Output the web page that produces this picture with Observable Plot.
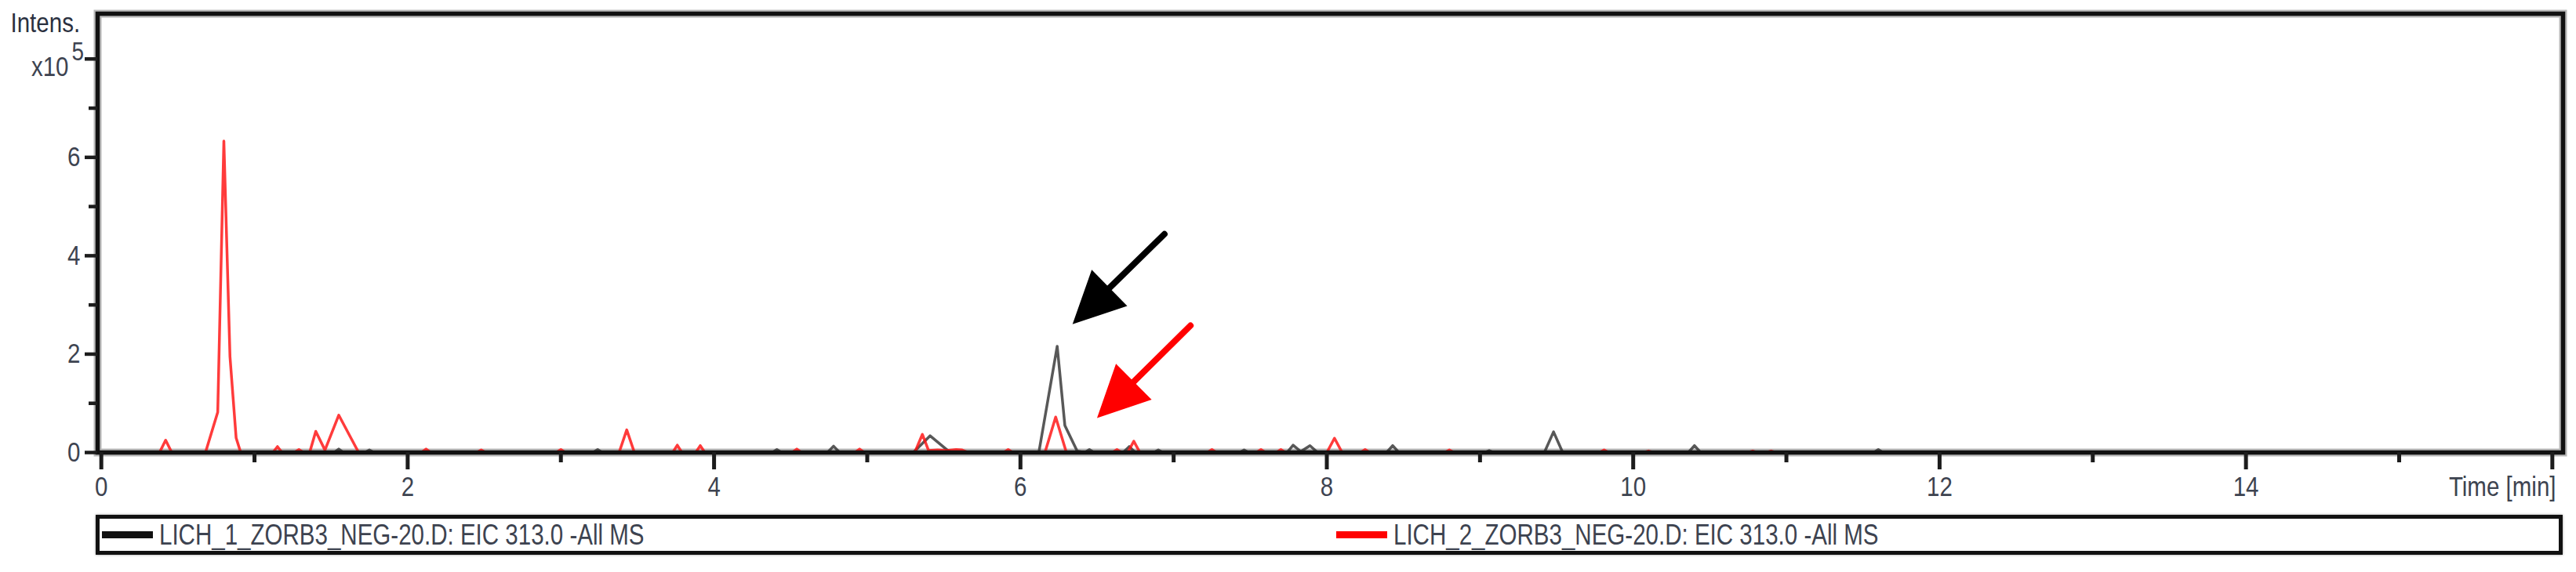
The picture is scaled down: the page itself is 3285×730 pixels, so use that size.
<!DOCTYPE html>
<html>
<head>
<meta charset="utf-8">
<script src="https://cdn.jsdelivr.net/npm/d3@7"></script>
<script src="https://cdn.jsdelivr.net/npm/@observablehq/plot@0.6"></script>
<style>
  html, body { margin: 0; padding: 0; background: #fff; }
  #wrap { position: relative; width: 3285px; height: 730px; overflow: hidden; background: #fff; }
  #legend { position: absolute; left: 122px; top: 657px; width: 3146px; height: 51px; box-sizing: border-box;
            border: 5px solid #111; box-shadow: 0 0 3px #999; background: #fff; }
  .swatch { position: absolute; top: 16px; height: 9px; }
  .ltext { position: absolute; top: 0; line-height: 41px; font-size: 36px; color: #3d4350; white-space: nowrap;
           transform-origin: left center; }
</style>
</head>
<body>
<div id="wrap"><div id="legend"></div></div>
<script>
// ---------- data (time in min, intensity in x10^5) ----------
const blackTime = [0, 1.52, 1.55, 1.58, 1.72, 1.75, 1.78, 3.21, 3.24, 3.27, 4.38, 4.41, 4.44, 4.74, 4.78, 4.82,
  5.30, 5.41, 5.53, 5.56, 6.12, 6.24, 6.29, 6.37, 6.42, 6.45, 6.48, 6.67, 6.71, 6.75, 6.87, 6.90, 6.93,
  7.43, 7.46, 7.49, 7.74, 7.78, 7.83, 7.89, 7.94, 8.39, 8.43, 8.47, 9.03, 9.06, 9.09, 9.42, 9.48, 9.54,
  10.36, 10.40, 10.44, 11.57, 11.60, 11.63, 16.06];
const blackIntens = [0, 0, 0.07, 0, 0, 0.05, 0, 0, 0.06, 0, 0, 0.06, 0, 0, 0.13, 0,
  0, 0.34, 0.03, 0, 0, 2.16, 0.55, 0.03, 0, 0.06, 0, 0, 0.12, 0, 0, 0.05, 0,
  0, 0.05, 0, 0, 0.15, 0.02, 0.14, 0, 0, 0.14, 0, 0, 0.04, 0, 0, 0.42, 0,
  0, 0.14, 0, 0, 0.06, 0, 0];

const redTime = [0, 0.38, 0.42, 0.46, 0.68, 0.76, 0.80, 0.84, 0.88, 0.91, 1.12, 1.15, 1.18, 1.26, 1.29, 1.32,
  1.36, 1.40, 1.46, 1.55, 1.68, 2.09, 2.12, 2.15, 2.45, 2.48, 2.51, 2.97, 3.00, 3.03, 3.38, 3.43, 3.48,
  3.73, 3.76, 3.79, 3.88, 3.91, 3.94, 4.51, 4.54, 4.57, 4.92, 4.95, 4.98,
  5.31, 5.36, 5.40, 5.46, 5.52, 5.58, 5.62, 5.66, 5.89, 5.92, 5.95, 6.16, 6.23, 6.30,
  6.60, 6.63, 6.66, 6.70, 6.74, 6.78, 7.22, 7.25, 7.28, 7.54, 7.57, 7.60, 7.67, 7.70, 7.73,
  8.00, 8.05, 8.10, 8.22, 8.25, 8.28, 8.77, 8.80, 8.83, 9.78, 9.81, 9.84, 10.07, 10.10, 10.13,
  10.75, 10.78, 10.81, 10.87, 10.90, 10.93, 16.06];
const redIntens = [0, 0, 0.25, 0, 0, 0.82, 6.33, 1.95, 0.3, 0, 0, 0.12, 0, 0, 0.06, 0,
  0, 0.43, 0.05, 0.76, 0, 0, 0.07, 0, 0, 0.05, 0, 0, 0.06, 0, 0, 0.46, 0,
  0, 0.15, 0, 0, 0.14, 0, 0, 0.07, 0, 0, 0.07, 0,
  0, 0.37, 0.04, 0.05, 0.04, 0.06, 0.05, 0, 0, 0.06, 0, 0, 0.72, 0,
  0, 0.06, 0, 0, 0.23, 0, 0, 0.06, 0, 0, 0.06, 0, 0, 0.06, 0,
  0, 0.29, 0, 0, 0.06, 0, 0, 0.05, 0, 0, 0.05, 0, 0, 0.03, 0,
  0, 0.03, 0, 0, 0.03, 0, 0];

const seriesLabels = ["LICH_1_ZORB3_NEG-20.D: EIC 313.0 -All MS", "LICH_2_ZORB3_NEG-20.D: EIC 313.0 -All MS"];
const seriesColors = ["#2e2e2e", "#ff1010"];

const xMajorTicks = [0, 2, 4, 6, 8, 10, 12, 14, 16];
const xTickLabels = ["0", "2", "4", "6", "8", "10", "12", "14", ""];
const xMinorTicks = [1, 3, 5, 7, 9, 11, 13, 15];
const yMajorTicks = [0, 2, 4, 6, 8];
const yTickLabels = ["0", "2", "4", "6", ""];
const yMinorTicks = [1, 3, 5, 7];
const xDomain = [-0.024, 16.07];
const yDomain = [0, 8.92];
const xTitle = "Time [min]";
const yTitle = "Intens.";
const yMultiplier = "x10";
const yMultiplierExp = "5";
const yMultiplierAt = [8];

// annotation arrows (data coordinates): tail -> tip
const arrowTailX = [6.94, 7.11];
const arrowTailY = [4.44, 2.58];
const arrowTipX = [6.34, 6.50];
const arrowTipY = [2.61, 0.70];
const arrowColors = ["#000000", "#ff0000"];

// ---------- fonts: prefer a real narrow face, else compress ----------
const ctx = document.createElement("canvas").getContext("2d");
ctx.font = "36px 'Liberation Sans Narrow'";
const wNarrow = ctx.measureText("Time [min] LICH_1_ZORB3").width;
ctx.font = "36px 'Liberation Sans'";
const wRegular = ctx.measureText("Time [min] LICH_1_ZORB3").width;
const hasNarrow = wNarrow / wRegular < 0.9;
const fontFamily = hasNarrow ? "'Liberation Sans Narrow', 'Arial Narrow', sans-serif" : "'Liberation Sans', Arial, Helvetica, sans-serif";
const squeeze = hasNarrow ? 1 : 0.82;

// ---------- build ----------
const blackRows = blackTime.map((t, i) => ({t, v: blackIntens[i]}));
const redRows = redTime.map((t, i) => ({t, v: redIntens[i]}));
const xLab = new Map(xMajorTicks.map((d, i) => [d, xTickLabels[i]]));
const yLab = new Map(yMajorTicks.map((d, i) => [d, yTickLabels[i]]));
const arrowRows = arrowTailX.map((x1, i) => ({x1, y1: arrowTailY[i], x2: arrowTipX[i], y2: arrowTipY[i], color: arrowColors[i]}));

// filled arrow head: tip at origin, pointing up
const headSymbol = {
  draw(context, size) {
    const s = Math.sqrt(size / Math.PI);
    context.moveTo(0, 0);
    context.lineTo(s * 0.98, s * 2);
    context.lineTo(-s * 0.98, s * 2);
    context.closePath();
  }
};

function makePlot(extra) {
  return Plot.plot({
    width: 3285, height: 650,
    marginLeft: 124, marginRight: 17, marginTop: 17, marginBottom: 73,
    x: {domain: xDomain},
    y: {domain: yDomain},
    color: {type: "identity"},
    style: {fontFamily, fontSize: "36px", color: "#3d4350", background: "#fff"},
    marks: [
      Plot.frame({stroke: "#b8b8b8", strokeWidth: 10}),
      Plot.line(blackRows, {x: "t", y: "v", stroke: seriesColors[0], strokeWidth: 3.5, strokeOpacity: 0.8}),
      Plot.line(redRows, {x: "t", y: "v", stroke: seriesColors[1], strokeWidth: 3.5, strokeOpacity: 0.82}),
      Plot.frame({stroke: "#111", strokeWidth: 5.5}),
      Plot.axisX({ticks: xMajorTicks, tickSize: 22, tickPadding: 8, tickFormat: d => xLab.get(d) ?? "",
        stroke: "#1c1c1c", strokeWidth: 5, label: null, fontSize: 36}),
      Plot.axisX({ticks: xMinorTicks, tickSize: 13, tickFormat: () => "", stroke: "#1c1c1c", strokeWidth: 5, label: null}),
      Plot.axisY({ticks: yMajorTicks, tickSize: 16, tickPadding: 6, tickFormat: d => yLab.get(d) ?? "",
        stroke: "#1c1c1c", strokeWidth: 4.5, label: null, fontSize: 36}),
      Plot.axisY({ticks: yMinorTicks, tickSize: 11, tickFormat: () => "", stroke: "#1c1c1c", strokeWidth: 4.5, label: null}),
      Plot.text([xTitle], {frameAnchor: "bottom-right", textAnchor: "end", lineAnchor: "top", dx: -9, dy: 30, fontSize: 36}),
      Plot.text([yTitle], {frameAnchor: "top-left", textAnchor: "start", lineAnchor: "top", dx: -111, dy: -2, fontSize: 36, fill: "#2a3040"}),
      Plot.text(yMultiplierAt, {y: d => d, frameAnchor: "left", textAnchor: "end", dx: -37, dy: 10, text: () => yMultiplier, fontSize: 36}),
      Plot.text(yMultiplierAt, {y: d => d, frameAnchor: "left", textAnchor: "start", dx: -33, dy: -9, text: () => yMultiplierExp, fontSize: 34}),
      Plot.arrow(arrowRows, {x1: "x1", y1: "y1", x2: "x2", y2: "y2", stroke: "color", strokeWidth: 8, headLength: 0, insetEnd: 40}),
      ...extra
    ]
  });
}

// first pass to obtain scales, then compute head orientation in screen space
const probe = makePlot([]);
const sx = probe.scale("x"), sy = probe.scale("y");
arrowRows.forEach(d => {
  const dx = sx.apply(d.x2) - sx.apply(d.x1);
  const dy = sy.apply(d.y2) - sy.apply(d.y1);
  d.angle = Math.atan2(dx, -dy) * 180 / Math.PI;
});
const chart = makePlot([
  Plot.dot(arrowRows, {x: "x2", y: "y2", r: 33, symbol: headSymbol, fill: "color", stroke: "none", rotate: "angle"})
]);
chart.style.position = "absolute";
chart.style.left = "0px";
chart.style.top = "0px";
const wrap = document.getElementById("wrap");
wrap.insertBefore(chart, wrap.firstChild);

// narrow (Arial Narrow-like) text when no narrow face is installed: squeeze around each text's anchor
if (squeeze !== 1) {
  chart.querySelectorAll("text").forEach(t => {
    if (!t.textContent) return;
    const x = parseFloat(t.getAttribute("x")) || 0;
    const ddx = parseFloat(t.getAttribute("dx")) || 0;
    const ax = x + ddx;
    const prev = t.getAttribute("transform") || "";
    t.setAttribute("transform", `${prev} translate(${ax} 0) scale(${squeeze} 1) translate(${-ax} 0)`.trim());
  });
}

// legend
const legend = document.getElementById("legend");
const legendPos = [3, 1577];
seriesLabels.forEach((label, i) => {
  const sw = document.createElement("div");
  sw.className = "swatch";
  sw.style.left = legendPos[i] + "px";
  sw.style.width = "65px";
  sw.style.background = i === 0 ? "#111" : "#ff0000";
  legend.appendChild(sw);
  const tx = document.createElement("div");
  tx.className = "ltext";
  tx.style.fontFamily = fontFamily;
  tx.style.transform = `scaleX(${squeeze})`;
  tx.style.left = (legendPos[i] + 73) + "px";
  tx.textContent = label;
  legend.appendChild(tx);
});
</script>
</body>
</html>
